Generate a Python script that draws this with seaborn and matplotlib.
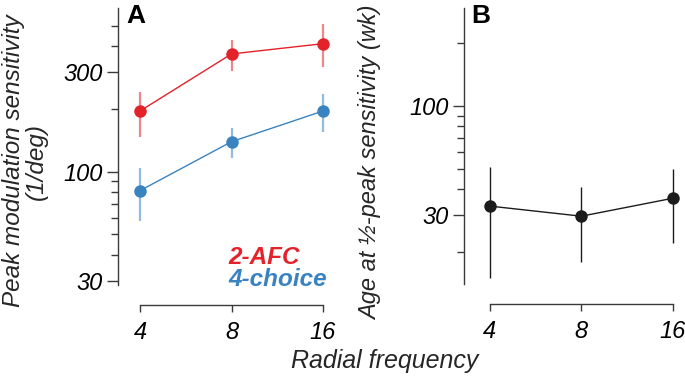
import matplotlib
matplotlib.use("Agg")
import matplotlib.pyplot as plt
import seaborn as sns
import pandas as pd
from matplotlib.ticker import FixedLocator, FixedFormatter, NullFormatter, NullLocator

# ---------------- data ----------------
freqs = [4, 8, 16]
freq_labels = ["4", "8", "16"]

afc2 = [195, 366, 410]
afc2_lo = [147, 303, 316]
afc2_hi = [240, 427, 508]

choice4 = [81, 139, 195]
choice4_lo = [58, 116, 155]
choice4_hi = [104, 162, 234]

age = [33.1, 29.6, 36.1]
age_lo = [15.0, 17.9, 22.0]
age_hi = [51.0, 41.0, 49.7]

a_major = [30, 100, 300]
a_major_labels = ["30", "100", "300"]
a_minor = [40, 50, 60, 70, 80, 90, 200, 400, 500]
b_major = [30, 100]
b_major_labels = ["30", "100"]
b_minor = [20, 40, 50, 60, 70, 80, 90, 200]

RED = "#e4222a"
BLUE = "#3a83c1"
DARK = "#1c1c1c"
SPINE = "#3a3a3a"

sns.set_theme(style="white")
plt.rcParams["font.family"] = ["Liberation Sans", "DejaVu Sans"]
plt.rcParams["font.style"] = "italic"

W, H = 685, 380
fig = plt.figure(figsize=(W / 100, H / 100), dpi=100)


def fx(px):
    return px / W


def fy(py):
    return 1 - py / H


axA = fig.add_axes([fx(118), fy(285), fx(227), (285 - 8) / H])
axB = fig.add_axes([fx(464.3), fy(284), fx(685 - 464.3), (284 - 8) / H])

df_a = pd.DataFrame({
    "freq": freqs * 2,
    "val": afc2 + choice4,
    "series": ["2-AFC"] * 3 + ["4-choice"] * 3,
})
df_b = pd.DataFrame({"freq": freqs, "val": age})

for ax in (axA, axB):
    ax.set_xscale("log", base=2)
    ax.set_yscale("log")

# error bars
axA.vlines(freqs, afc2_lo, afc2_hi, color=RED, lw=1.6, alpha=0.55, zorder=1)
axA.vlines(freqs, choice4_lo, choice4_hi, color=BLUE, lw=1.6, alpha=0.55, zorder=1)
axB.vlines(freqs, age_lo, age_hi, color=DARK, lw=1.0, zorder=1)

sns.lineplot(data=df_a, x="freq", y="val", hue="series",
             palette={"2-AFC": RED, "4-choice": BLUE},
             marker="o", markersize=9, markeredgewidth=0, linewidth=1.0,
             legend=False, ax=axA, zorder=3)
sns.lineplot(data=df_b, x="freq", y="val", color=DARK,
             marker="o", markersize=9, markeredgewidth=0, linewidth=1.0,
             legend=False, ax=axB, zorder=3)

octave = 91.5
axA.set_xlim(2 ** (2 - 22 / octave), 2 ** (4 + 22 / octave))
axA.set_ylim(28.6, 607.7)
axB.set_xlim(2 ** (2 - 25.4 / octave), 2 ** (4 + 12 / octave))
axB.set_ylim(14.0, 295)

for ax, maj, majl, mino in ((axA, a_major, a_major_labels, a_minor),
                            (axB, b_major, b_major_labels, b_minor)):
    ax.set_xlabel("")
    ax.set_ylabel("")
    ax.xaxis.set_major_locator(FixedLocator(freqs))
    ax.xaxis.set_major_formatter(FixedFormatter(freq_labels))
    ax.xaxis.set_minor_locator(NullLocator())
    ax.xaxis.set_minor_formatter(NullFormatter())
    ax.yaxis.set_major_locator(FixedLocator(maj))
    ax.yaxis.set_major_formatter(FixedFormatter(majl))
    ax.yaxis.set_minor_locator(FixedLocator(mino))
    ax.yaxis.set_minor_formatter(NullFormatter())
    for s in ("top", "right"):
        ax.spines[s].set_visible(False)
    ax.spines["left"].set_color(SPINE)
    ax.spines["bottom"].set_color(SPINE)
    ax.spines["left"].set_linewidth(1.0)
    ax.spines["bottom"].set_linewidth(1.0)
    ax.spines["bottom"].set_position(("outward", 14.4))
    ax.spines["bottom"].set_bounds(4, 16)
    ax.tick_params(axis="both", which="major", labelsize=17,
                   labelcolor="black")
    ax.tick_params(axis="y", which="major", direction="out", length=8,
                   width=1.0, color=SPINE, pad=3, left=True)
    ax.tick_params(axis="y", which="minor", direction="out", length=5,
                   width=1.0, color=SPINE, left=True)
    ax.tick_params(axis="x", which="major", direction="out", length=5,
                   width=1.0, color=SPINE, pad=6.5, bottom=True)
    ax.set_facecolor("none")
    ax.grid(False)

# panel letters
fig.text(fx(126), fy(16), "A", fontsize=19, fontweight="bold",
         fontstyle="normal", ha="left", va="center", color="black")
fig.text(fx(471), fy(16), "B", fontsize=19, fontweight="bold",
         fontstyle="normal", ha="left", va="center", color="black")

# legend text
fig.text(fx(228), fy(257), "2-AFC", fontsize=17.5, fontweight="bold",
         fontstyle="italic", color=RED, ha="left", va="center")
fig.text(fx(228), fy(279), "4-choice", fontsize=17.5, fontweight="bold",
         fontstyle="italic", color=BLUE, ha="left", va="center")

# axis labels
fig.text(fx(25), fy(161), "Peak modulation sensitivity\n(1/deg)",
         fontsize=17.5, fontstyle="italic", rotation=90, ha="center",
         va="center", multialignment="center", linespacing=0.95)
fig.text(fx(371), fy(163), "Age at \u00bd-peak sensitivity (wk)",
         fontsize=17, fontstyle="italic", rotation=90, ha="center",
         va="center")
fig.text(fx(385), fy(361), "Radial frequency", fontsize=18,
         fontstyle="italic", ha="center", va="center")

fig.savefig("out.png", dpi=100)
